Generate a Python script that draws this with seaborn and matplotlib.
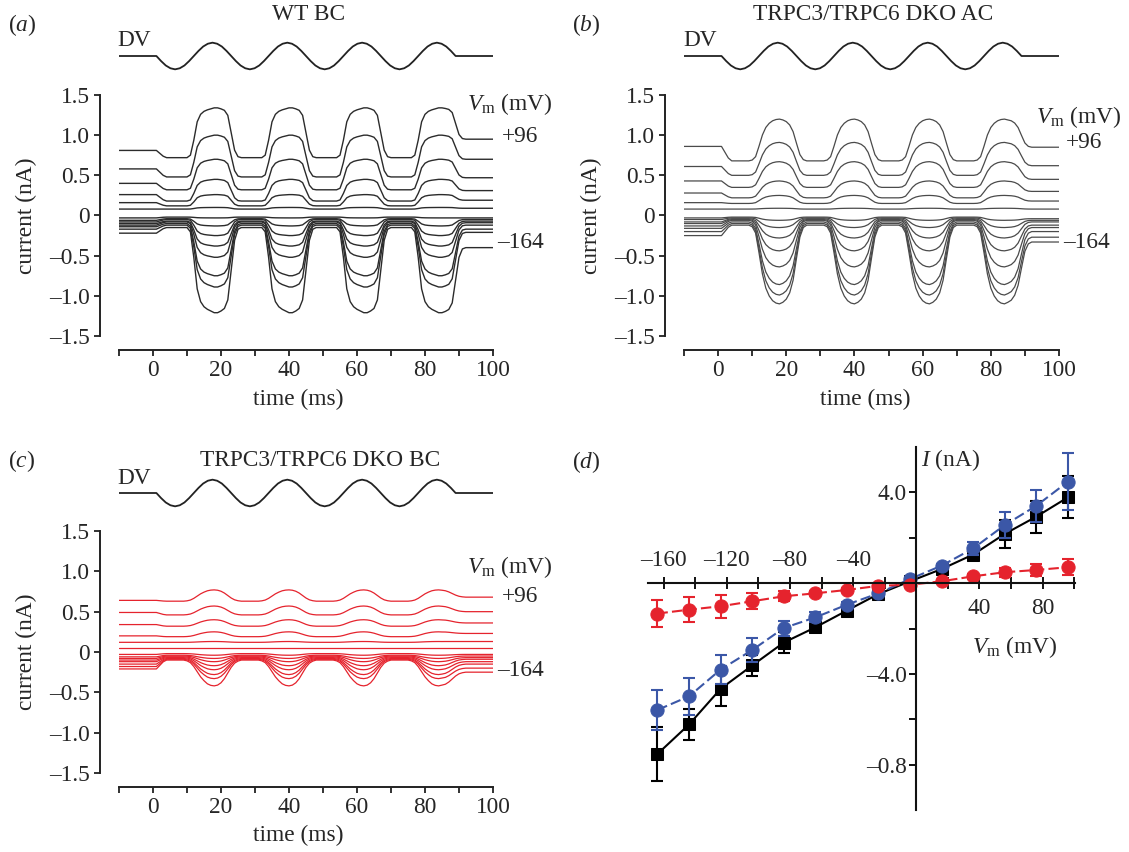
import numpy as np
import pandas as pd
import matplotlib
matplotlib.use('Agg')
import matplotlib.pyplot as plt
import seaborn as sns

# ── Data ───────────────────────────────────────────────────────────────────────
vm_steps = [96, 76, 56, 36, 16, -4, -24, -44, -64, -84, -104, -124, -144, -164]

# relative activation over one stimulus cycle (t = 4..25 ms, 1 ms steps)
prof_a = [0, 0, 0, 0, 0, 0, 0, 0.05, 0.35, 0.72, 0.87, 0.93, 0.96, 0.98,
          1.0, 1.0, 0.98, 0.95, 0.85, 0.5, 0.15, 0.02]
prof_b = [0, 0, 0, 0, 0, 0, 0.02, 0.1, 0.35, 0.62, 0.8, 0.9, 0.96, 0.99,
          1.0, 0.98, 0.94, 0.86, 0.7, 0.42, 0.15, 0.03]
prof_c = [0, 0, 0, 0, 0, 0, 0.03, 0.1, 0.25, 0.45, 0.65, 0.8, 0.92, 0.98,
          1.0, 0.97, 0.88, 0.72, 0.5, 0.28, 0.12, 0.04]
onset_ramp = [0.4, 0.8]  # t = 2, 3 ms

# per-trace levels (nA): before, stimulus off-phase, stimulus on-phase, after
a_pre  = [0.81, 0.58, 0.40, 0.26, 0.16, 0.08, -0.03, -0.06, -0.08, -0.10, -0.12, -0.14, -0.17, -0.22]
a_off  = [0.72, 0.48, 0.32, 0.18, 0.12, 0.08, -0.02, -0.04, -0.05, -0.07, -0.08, -0.10, -0.12, -0.15]
a_on   = [1.34, 1.00, 0.70, 0.45, 0.26, 0.10, -0.03, -0.13, -0.25, -0.38, -0.52, -0.75, -0.89, -1.21]
a_post = [0.95, 0.70, 0.47, 0.31, 0.19, 0.09, -0.03, -0.05, -0.07, -0.09, -0.12, -0.17, -0.21, -0.40]

b_pre  = [0.86, 0.61, 0.43, 0.28, 0.16, 0.08, -0.03, -0.05, -0.08, -0.10, -0.13, -0.16, -0.20, -0.25]
b_off  = [0.68, 0.50, 0.35, 0.22, 0.15, 0.08, -0.02, -0.03, -0.04, -0.05, -0.06, -0.08, -0.10, -0.12]
b_on   = [1.20, 0.91, 0.67, 0.43, 0.25, 0.09, -0.06, -0.15, -0.28, -0.44, -0.64, -0.86, -0.99, -1.10]
b_post = [0.85, 0.62, 0.45, 0.30, 0.18, 0.08, -0.04, -0.06, -0.08, -0.12, -0.15, -0.20, -0.27, -0.33]

c_pre  = [0.64, 0.49, 0.34, 0.20, 0.12, 0.05, -0.03, -0.06, -0.08, -0.10, -0.12, -0.15, -0.18, -0.21]
c_off  = [0.63, 0.46, 0.32, 0.19, 0.12, 0.05, -0.02, -0.04, -0.05, -0.06, -0.07, -0.08, -0.09, -0.10]
c_on   = [0.77, 0.57, 0.40, 0.25, 0.13, 0.05, -0.04, -0.08, -0.12, -0.17, -0.22, -0.28, -0.33, -0.42]
c_post = [0.68, 0.50, 0.36, 0.23, 0.13, 0.05, -0.03, -0.05, -0.07, -0.09, -0.12, -0.15, -0.20, -0.25]

# DV stimulus, one cycle in 16 samples
dv_cycle = [0, -0.38, -0.71, -0.92, -1, -0.92, -0.71, -0.38,
            0, 0.38, 0.71, 0.92, 1, 0.92, 0.71, 0.38]

# (d) I-V relation
iv_vm  = [-164, -144, -124, -104, -84, -64, -44, -24, -4, 16, 36, 56, 76, 96]
wt_i   = [-7.53, -6.23, -4.66, -3.63, -2.62, -1.95, -1.21, -0.48, 0.08, 0.62, 1.26, 2.17, 2.93, 3.78]
wt_err = [1.2, 0.7, 0.75, 0.45, 0.45, 0.2, 0.15, 0.1, 0.08, 0.1, 0.25, 0.6, 0.7, 0.93]
ac_i   = [-5.59, -4.99, -3.81, -2.95, -1.98, -1.51, -0.95, -0.45, 0.18, 0.77, 1.53, 2.56, 3.41, 4.47]
ac_err = [0.88, 0.83, 0.65, 0.53, 0.33, 0.22, 0.1, 0.08, 0.06, 0.08, 0.3, 0.56, 0.7, 1.25]
ko_i   = [-1.34, -1.17, -1.02, -0.80, -0.58, -0.45, -0.30, -0.12, -0.07, 0.08, 0.30, 0.48, 0.58, 0.70]
ko_err = [0.6, 0.55, 0.5, 0.35, 0.22, 0.1, 0.08, 0.06, 0.05, 0.06, 0.1, 0.2, 0.26, 0.36]

# ── Style ──────────────────────────────────────────────────────────────────────
sns.set_theme(style='ticks')
plt.rcParams['font.family'] = ['Liberation Serif', 'DejaVu Serif']
plt.rcParams['mathtext.fontset'] = 'custom'
plt.rcParams['mathtext.rm'] = 'Liberation Serif'
plt.rcParams['mathtext.it'] = 'Liberation Serif:italic'
FS = 16.8
W, H = 1129, 852
DASH = '\u2013'
BLUE = '#3b57a7'
RED = '#e5232d'

fig = plt.figure(figsize=(W / 100, H / 100), dpi=100)


def box(x0, y0, x1, y1):
    return [x0 / W, 1 - y1 / H, (x1 - x0) / W, (y1 - y0) / H]


def ftext(x, y, s, **kw):
    kw.setdefault('fontsize', FS)
    fig.text(x / W, 1 - y / H, s, **kw)


def build_traces(pre, off, on, post, prof):
    t = np.arange(-10, 101)
    stim_t = np.arange(4, 92)
    act = np.tile(prof, 4)
    frames = []
    for k, vm in enumerate(vm_steps):
        # last half-cycle relaxes towards the post-stimulus level
        base = np.where(stim_t < 86, off[k], post[k])
        y = np.concatenate([
            np.full(12, pre[k]),
            pre[k] + (off[k] - pre[k]) * np.array(onset_ramp),
            base + (on[k] - base) * act,
            np.full(9, post[k]),
        ])
        frames.append(pd.DataFrame({'time': t, 'current': y, 'vm': vm}))
    return pd.concat(frames, ignore_index=True)


def trace_panel(x0, x1, ytop, ybot, dv_y, df, color, lw):
    ax = fig.add_axes(box(x0, ytop, x1, ybot))
    sns.lineplot(data=df, x='time', y='current', units='vm', estimator=None,
                 color=color, lw=lw, ax=ax, legend=False)
    ax.set_xlim(-10, 100)
    ax.set_ylim(-1.5, 1.5)
    sns.despine(ax=ax)
    ax.spines['left'].set_position(('outward', 13.5))
    ax.spines['bottom'].set_position(('outward', 10))
    for s in ('left', 'bottom'):
        ax.spines[s].set_linewidth(1.4)
        ax.spines[s].set_color('#222')
    ax.set_yticks([1.5, 1.0, 0.5, 0, -0.5, -1.0, -1.5])
    ax.set_yticklabels(['1.5', '1.0', '0.5', '0', DASH + '0.5', DASH + '1.0', DASH + '1.5'])
    ax.set_xticks([0, 20, 40, 60, 80, 100])
    ax.set_xticks([-10, 10, 30, 50, 70, 90], minor=True)
    ax.tick_params(axis='both', which='both', direction='out', length=4.5,
                   width=1.3, color='#222', labelsize=FS, pad=3)
    ax.set_xlabel('')
    ax.set_ylabel('')
    ax.patch.set_alpha(0)

    # DV stimulus strip above
    dv_t = np.concatenate([[-10], 1 + np.arange(65) * 22 / 16, [100]])
    dv_v = np.concatenate([[0], np.tile(dv_cycle, 4), [0, 0]])
    dax = fig.add_axes(box(x0, dv_y - 20, x1, dv_y + 20))
    sns.lineplot(x=dv_t, y=dv_v, color='#222', lw=1.3, ax=dax, sort=False)
    dax.set_xlim(-10, 100)
    dax.set_ylim(-1.5, 1.5)
    dax.axis('off')
    return ax


df_a = build_traces(a_pre, a_off, a_on, a_post, prof_a)
df_b = build_traces(b_pre, b_off, b_on, b_post, prof_b)
df_c = build_traces(c_pre, c_off, c_on, c_post, prof_c)

vm_label = r'$V_{\mathrm{m}}$ (mV)'

# (a)
trace_panel(119, 493, 95, 336, 56, df_a, '#2b2b2b', 1.0)
ftext(8, 25, r'($\mathit{a}$)', va='center')
ftext(309, 15, 'WT BC', ha='center', va='center')
ftext(117, 41, 'DV', va='center')
ftext(26, 216, 'current (nA)', rotation=90, ha='center', va='center')
ftext(298, 399, 'time (ms)', ha='center', va='center')
ftext(467, 104, vm_label, va='center')
ftext(502, 137, '+96', va='center')
ftext(497, 243, DASH + '164', va='center')

# (b)
trace_panel(684, 1059, 95, 336, 56, df_b, '#4a4a4a', 0.9)
ftext(572, 25, r'($\mathit{b}$)', va='center')
ftext(873, 15, 'TRPC3/TRPC6 DKO AC', ha='center', va='center')
ftext(683, 41, 'DV', va='center')
ftext(591, 216, 'current (nA)', rotation=90, ha='center', va='center')
ftext(865, 399, 'time (ms)', ha='center', va='center')
ftext(1036, 117, vm_label, va='center')
ftext(1066, 143, '+96', va='center')
ftext(1063, 243, DASH + '164', va='center')

# (c)
trace_panel(119, 493, 531, 773, 493, df_c, RED, 0.9)
ftext(8, 461, r'($\mathit{c}$)', va='center')
ftext(320, 460, 'TRPC3/TRPC6 DKO BC', ha='center', va='center')
ftext(117, 478, 'DV', va='center')
ftext(26, 652, 'current (nA)', rotation=90, ha='center', va='center')
ftext(298, 835, 'time (ms)', ha='center', va='center')
ftext(467, 567, vm_label, va='center')
ftext(502, 597, '+96', va='center')
ftext(497, 670, DASH + '164', va='center')

# (d) I-V curves, axes crossing at the origin
ax = fig.add_axes(box(648, 447, 1075, 810))
series = [(wt_i, wt_err, 'black', 's', '-', 8.0),
          (ac_i, ac_err, BLUE, 'o', (0, (5, 2)), 9.5),
          (ko_i, ko_err, RED, 'o', (0, (5, 2)), 9.5)]
for vals, err, col, mk, ls, ms in series:
    ax.errorbar(iv_vm, vals, yerr=err, fmt='none', ecolor=col, elinewidth=1.5,
                capsize=4, capthick=1.5)
    sns.lineplot(x=iv_vm, y=vals, color=col, marker=mk, markersize=ms,
                 markeredgecolor=col, linestyle=ls, lw=1.5, ax=ax, sort=False)
ax.set_xlim(-170, 100.5)
ax.set_ylim(-10, 6)
for s in ('top', 'right'):
    ax.spines[s].set_visible(False)
ax.spines['left'].set_position(('data', 0))
ax.spines['bottom'].set_position(('data', 0))
for s in ('left', 'bottom'):
    ax.spines[s].set_linewidth(1.5)
    ax.spines[s].set_color('#111')
ax.set_xticks([v for v in range(-160, 101, 20) if v != 0])
ax.set_xticklabels([])
ax.tick_params(axis='x', direction='inout', length=9, width=1.4, color='#111')
ax.set_yticks([-8, -6, -4, -2, 2, 4])
ax.set_yticklabels([DASH + '0.8', '', DASH + '4.0', '', '', '4.0'])
ax.tick_params(axis='y', direction='out', length=5, width=1.4, color='#111',
               labelsize=FS, pad=2)
for v in (-160, -120, -80, -40):
    ax.annotate(DASH + str(-v), (v, 0), xytext=(0, 9), textcoords='offset points',
                ha='center', va='bottom', fontsize=FS)
for v in (40, 80):
    ax.annotate(str(v), (v, 0), xytext=(0, -11), textcoords='offset points',
                ha='center', va='top', fontsize=FS)
ax.set_xlabel('')
ax.set_ylabel('')
ax.patch.set_alpha(0)
ftext(572, 462, r'($\mathit{d}$)', va='center')
ftext(921, 460, r'$I$ (nA)', va='center')
ftext(972, 647, vm_label, va='center')

fig.savefig('out.png', dpi=100)
